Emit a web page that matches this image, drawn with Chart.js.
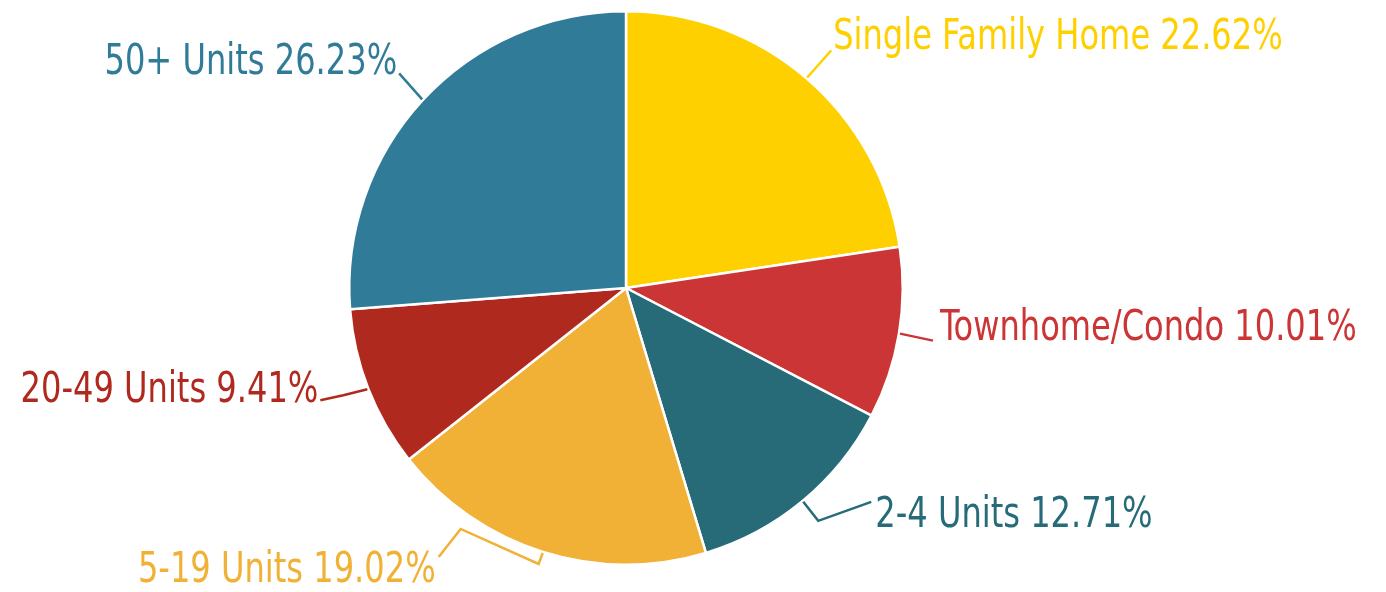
<!DOCTYPE html>
<html>
<head>
<meta charset="utf-8">
<script src="https://cdn.jsdelivr.net/npm/chart.js@4.4.1/dist/chart.umd.min.js"></script>
<style>
  html, body { margin: 0; padding: 0; background: #fff; }
  #wrap { width: 1386px; height: 592px; }
</style>
</head>
<body>
<div id="wrap"><canvas id="pieChart"></canvas></div>
<script>
// chart data
var categories = ['Single Family Home', 'Townhome/Condo', '2-4 Units', '5-19 Units', '20-49 Units', '50+ Units'];
var shares = [22.62, 10.01, 12.71, 19.02, 9.41, 26.23];
var colors = ['#FFD000', '#CC3535', '#276B79', '#F0B136', '#B0291F', '#307C98'];

// leader line bends (offsets from the slice edge) and text placement
var leaders = [
    { pts: [[24, -27]], text: [26, -28], align: 'left' },
    { pts: [[33, 7]], text: [40, 6], align: 'left' },
    { pts: [[15, 19], [68, 0]], text: [72, 25], align: 'left' },
    { pts: [[-4, 11], [-82, -24], [-104, 4]], text: [-107, 29], align: 'right' },
    { pts: [[-24, 6], [-47, 11]], text: [-49, 13], align: 'right' },
    { pts: [[-23, -26]], text: [-25, -25], align: 'right' }
];
var squeeze = 0.83; // condensed look

var labelPlugin = {
    id: 'leaderLabels',
    afterDatasetsDraw: function (chart) {
        var ctx = chart.ctx;
        var arcs = chart.getDatasetMeta(0).data;
        ctx.save();
        ctx.font = '43px "DejaVu Sans Condensed", "DejaVu Sans", sans-serif';
        ctx.textBaseline = 'alphabetic';
        arcs.forEach(function (arc, i) {
            var p = arc.getProps(['x', 'y', 'startAngle', 'endAngle', 'outerRadius'], true);
            var mid = (p.startAngle + p.endAngle) / 2;
            var sx = p.x + Math.cos(mid) * (p.outerRadius + 1);
            var sy = p.y + Math.sin(mid) * (p.outerRadius + 1);
            var cfg = leaders[i];
            ctx.strokeStyle = colors[i];
            ctx.lineWidth = 2.5;
            ctx.beginPath();
            ctx.moveTo(sx, sy);
            cfg.pts.forEach(function (o) { ctx.lineTo(sx + o[0], sy + o[1]); });
            ctx.stroke();
            ctx.save();
            ctx.translate(sx + cfg.text[0], sy + cfg.text[1]);
            ctx.scale(squeeze, 1);
            ctx.fillStyle = colors[i];
            ctx.textAlign = cfg.align;
            ctx.fillText(categories[i] + ' ' + shares[i].toFixed(2) + '%', 0, 0);
            ctx.restore();
        });
        ctx.restore();
    }
};

var ctx = document.getElementById('pieChart').getContext('2d');
var pieChart = new Chart(ctx, {
    type: 'pie',
    data: {
        labels: categories,
        datasets: [{
            data: shares,
            backgroundColor: colors,
            borderColor: '#ffffff',
            borderWidth: 2.5
        }]
    },
    options: {
        responsive: true,
        maintainAspectRatio: false,
        animation: false,
        layout: { padding: { top: 10, bottom: 26, left: 0, right: 134 } },
        plugins: {
            legend: { display: false },
            tooltip: { enabled: false }
        }
    },
    plugins: [labelPlugin]
});
</script>
</body>
</html>
